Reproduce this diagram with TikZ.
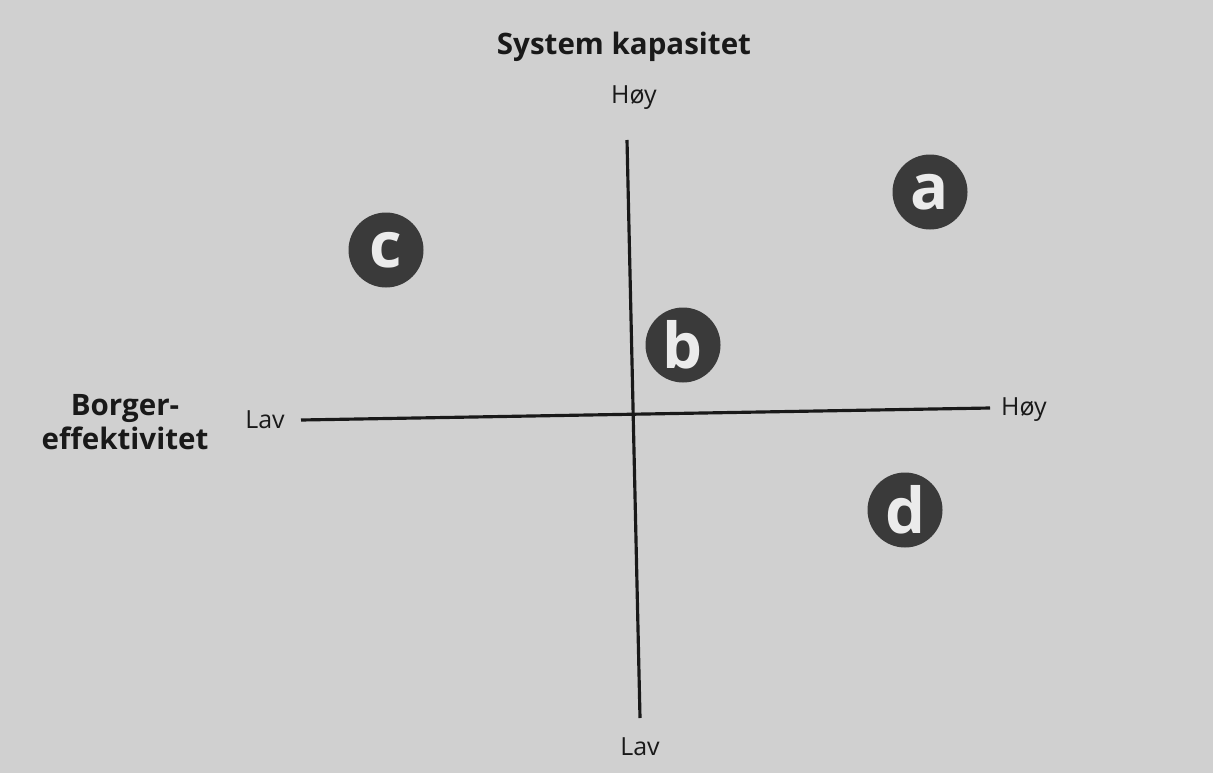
\documentclass[tikz,border=0pt]{standalone}
\usepackage{fontspec}
\setmainfont{Open Sans}
\usepackage{tikz}
\usetikzlibrary{calc,positioning}
\definecolor{page}{RGB}{208,208,208}
\definecolor{ink}{RGB}{25,25,25}
\definecolor{disc}{RGB}{58,58,58}
\tikzset{
  axislabel/.style={text=ink, font=\fontsize{14.2}{16}\selectfont},
  axistitle/.style={text=ink, font=\fontsize{16.8}{19.5}\selectfont\bfseries, align=center},
  quadrant/.style={circle, fill=disc, minimum size=1.5cm, inner sep=0pt, text=white!92!black, font=\fontsize{36}{36}\selectfont\bfseries}
}
\begin{document}
\begin{tikzpicture}[>=stealth, scale=1]
        \fill[page] (0,0) rectangle (24.26,15.46);
        \useasboundingbox (0,0) rectangle (24.26,15.46);
        \path 
        (12.54,12.66) coordinate (top)
        (12.80,1.10)  coordinate (bottom)
        (6.02,7.06)   coordinate (left)
        (19.80,7.30)  coordinate (right)
        ;   
        \draw 
        (12.48,14.52) node[axistitle] (sys) {System kapasitet}
        (12.68,13.50) node[axislabel] (hoyv) {Høy}
        (12.80,0.52)  node[axislabel] (lavv) {Lav}
        (5.30,7.06)   node[axislabel] (lavh) {Lav}
        (20.48,7.26)  node[axislabel] (hoyh) {Høy}
        (2.50,7.02)   node[axistitle] (borger) {Borger-\\effektivitet}
        ;

        \draw[line width=1.8pt, ink] (top) to (bottom);
        \draw[line width=1.8pt, ink] (left) to (right);

        % kvadranter
        \node[quadrant] (a) at (18.60,11.62) {a};
        \node[quadrant] (b) at (13.66,8.56) {b};
        \node[quadrant] (c) at (7.72,10.46) {c};
        \node[quadrant] (d) at (18.10,5.26) {d};
\end{tikzpicture}
\end{document}
